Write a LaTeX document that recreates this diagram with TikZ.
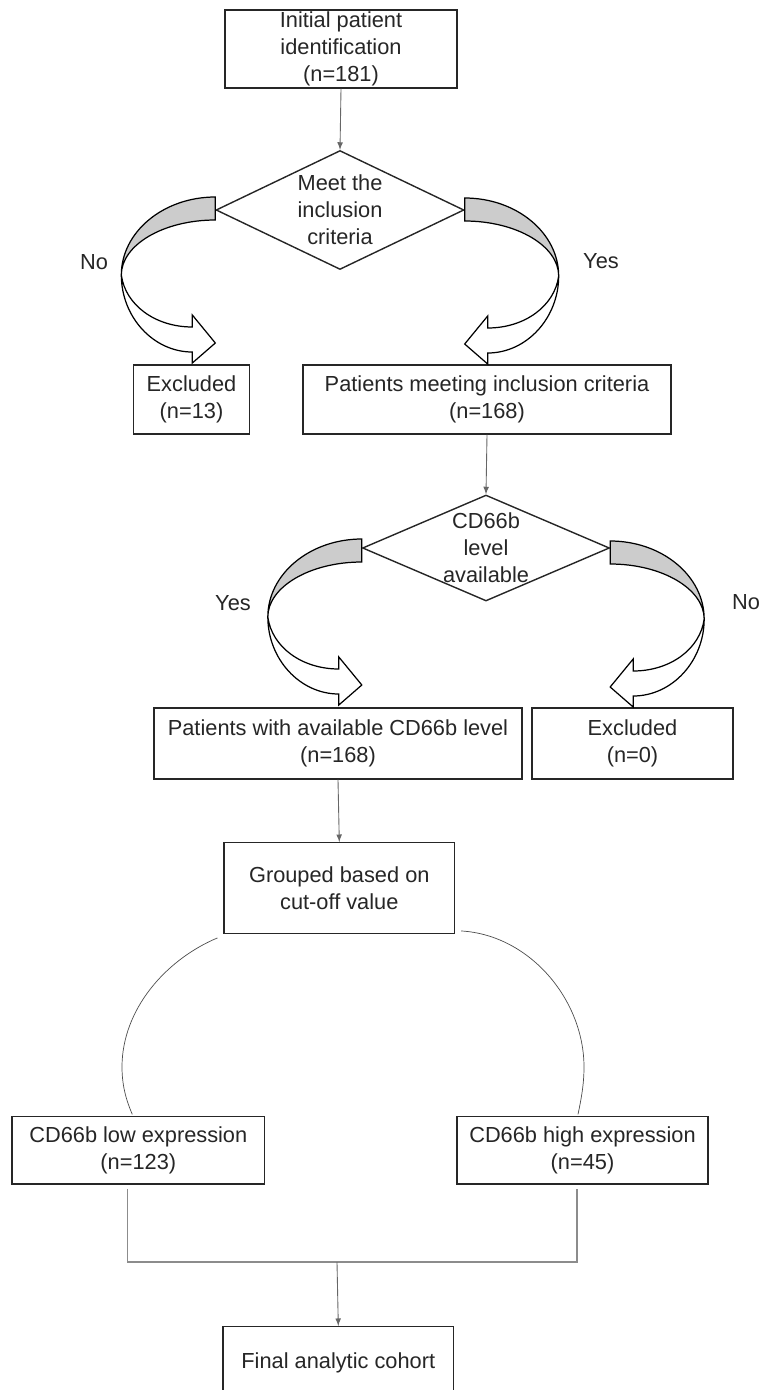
\documentclass[tikz,border=0pt]{standalone}
\usepackage{fontspec}
\setmainfont{Liberation Sans}
\usetikzlibrary{shapes.geometric}

\begin{document}
\begin{tikzpicture}[>=latex,x=0.02cm,y=-0.02cm,
  box/.style={draw=black!85,line width=0.8pt,fill=white,align=center,inner sep=0pt,
    font=\fontsize{12.4}{15.3}\selectfont,text=black!85},
  choice/.style={diamond,aspect=2,draw=black!85,line width=0.8pt,align=center,inner xsep=0pt,inner ysep=-6pt,
    font=\fontsize{12.4}{15.3}\selectfont,text=black!85},
  link/.style={->,draw=black!60,line width=0.5pt},
  splitline/.style={draw=black!70,line width=0.4pt},
  answer/.style={font=\fontsize{12.4}{15.3}\selectfont,text=black!85},
  uturn/.pic={
    \filldraw[fill=gray!40,draw=black,line width=0.7pt] (0,0) .. controls (52,0) and (94,35) .. (94,78)
      .. controls (94,48) and (52,23) .. (0,23) -- cycle;
    \filldraw[fill=white,draw=black,line width=0.7pt] (94,78) .. controls (90,108) and (60,130) .. (23,130)
      -- (23,118) -- (0,146) -- (23,166) -- (23,155) .. controls (62,155) and (94,120) .. (94,78) -- cycle;
  }]

\useasboundingbox (0,0) rectangle (761,1390);

% boxes
\node[box,minimum width=4.64cm,minimum height=1.56cm] (init) at (341,49) {Initial patient\\identification\\(n=181)};
\node[choice,minimum width=4.96cm,minimum height=2.38cm] (meet) at (340,210) {Meet the\\inclusion\\criteria};
\node[box,minimum width=2.32cm,minimum height=1.38cm] (excl1) at (191.5,399.5) {Excluded\\(n=13)};
\node[box,minimum width=7.36cm,minimum height=1.38cm] (incl) at (487,399.5) {Patients meeting inclusion criteria\\(n=168)};
\node[choice,minimum width=4.94cm,minimum height=2.12cm] (level) at (486,548) {CD66b\\level\\available};
\node[box,minimum width=7.36cm,minimum height=1.42cm] (avail) at (338,743.5) {Patients with available CD66b level\\(n=168)};
\node[box,minimum width=4.02cm,minimum height=1.42cm] (excl2) at (632.5,743.5) {Excluded\\(n=0)};
\node[box,minimum width=4.61cm,minimum height=1.81cm] (group) at (339.3,888) {Grouped based on\\cut-off value};
\node[box,minimum width=5.05cm,minimum height=1.35cm] (low) at (138.3,1150.3) {CD66b low expression\\(n=123)};
\node[box,minimum width=5.02cm,minimum height=1.35cm] (high) at (582.5,1150.3) {CD66b high expression\\(n=45)};
\node[box,minimum width=4.61cm,minimum height=1.44cm] (final) at (338.3,1362.7) {Final analytic cohort};

% yes / no turns
\pic[xscale=-1] at ([shift={(0,-13)}]meet.west) {uturn};
\pic at ([shift={(0,-12)}]meet.east) {uturn};
\pic[xscale=-1] at ([shift={(0,-9)}]level.west) {uturn};
\pic at ([shift={(0,-7)}]level.east) {uturn};
\node[answer] (no1) at (94,262) {No};
\node[answer] (yes1) at (601,261) {Yes};
\node[answer] (yes2) at (233,603) {Yes};
\node[answer] (no2) at (746,602) {No};

% connectors
\draw[link] (init.south) -- (meet.north);
\draw[link] (incl.south) -- (level.north);
\draw[link] (avail.south) -- (group.north);

\draw[splitline] ([shift={(-6,4)}]group.south west) .. controls (165,960) and (122,1010) .. (122,1067)
  .. controls (122,1085) and (126,1100) .. ([shift={(-6,-1.5)}]low.north);
\draw[splitline] ([shift={(6,-3)}]group.south east) .. controls (530,935) and (584,1000) .. (584,1067)
  .. controls (584,1085) and (581,1100) .. ([shift={(-4.5,-1.5)}]high.north);

\coordinate (join) at (337,1262);
\draw[draw=black!45,line width=0.6pt] ([shift={(-11,4)}]low.south) |- (join) -| ([shift={(-5.5,4)}]high.south);
\draw[link] (join) -- (final.north);

\end{tikzpicture}
\end{document}
